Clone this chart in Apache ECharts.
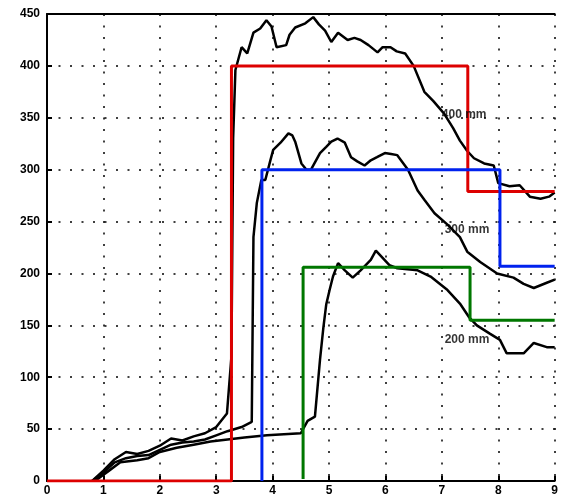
<!DOCTYPE html>
<html><head><meta charset="utf-8">
<script src="https://cdn.jsdelivr.net/npm/echarts@6/dist/echarts.min.js"></script>
<style>html,body{margin:0;padding:0;background:#fff}#c{width:561px;height:500px}</style>
</head><body><div id="c"></div>
<script>
var xTicks = [0,1,2,3,4,5,6,7,8,9];
var yTicks = [0,50,100,150,200,250,300,350,400,450];

var stepRed   = [[0,0],[3.27,0],[3.27,400],[7.46,400],[7.46,279],[9,279]];
var stepBlue  = [[3.81,0],[3.81,300],[8.03,300],[8.03,207],[9,207]];
var stepGreen = [[4.54,2],[4.54,206],[7.5,206],[7.5,155],[9,155]];

var curve400 = [[0.8,0],[1.0,10],[1.2,21],[1.4,28],[1.6,26],[1.8,29],[2.0,34],[2.2,41],[2.4,39],[2.6,43],[2.8,46],[3.0,52],[3.19,65],[3.27,120],[3.3,330],[3.34,396],
  [3.45,418],[3.55,412],[3.66,432],[3.78,436],[3.89,444],[3.98,438],[4.07,418],[4.24,420],[4.3,430],[4.4,437],[4.58,441],[4.72,447],[4.82,440],[4.93,434],[5.04,423],[5.16,432],
  [5.33,425],[5.45,427],[5.56,425],[5.7,420],[5.86,413],[5.95,418],[6.09,418],[6.2,414],[6.35,412],[6.5,400],[6.69,375],[6.85,366],[7.04,354],[7.2,340],[7.32,328],[7.45,318],
  [7.57,311],[7.75,306],[7.92,304],[8.0,287],[8.2,284],[8.38,285],[8.56,274],[8.75,272],[8.9,274],[9,278]];

var curve300 = [[0.8,0],[1.0,8],[1.2,18],[1.4,22],[1.6,24],[1.8,25],[2.0,30],[2.2,35],[2.4,37],[2.6,38],[2.8,40],[3.0,44],[3.2,48],[3.45,52],[3.63,57],[3.66,235],
  [3.72,268],[3.8,290],[3.87,290],[3.96,309],[4.01,319],[4.14,326],[4.28,335],[4.35,333],[4.4,327],[4.51,306],[4.6,300],[4.68,300],[4.84,316],[4.95,322],[5.04,327],[5.15,330],
  [5.28,326],[5.39,312],[5.5,308],[5.63,304],[5.74,309],[5.85,312],[5.99,316],[6.1,315],[6.21,314],[6.4,300],[6.57,280],[6.69,271],[6.87,258],[7.1,247],[7.32,235],[7.45,221],
  [7.68,211],[7.98,200],[8.27,196],[8.45,190],[8.63,186],[8.86,191],[9,194]];

var curve200 = [[0.85,0],[1.1,10],[1.3,18],[1.6,20],[1.8,22],[2.0,28],[2.3,32],[2.6,35],[2.9,38],[3.2,40],[3.5,42],[3.9,44],[4.5,46],[4.62,58],[4.75,62],[4.84,117],
  [4.9,148],[4.95,170],[5.01,184],[5.07,197],[5.16,210],[5.28,203],[5.42,196],[5.56,203],[5.74,213],[5.83,222],[5.95,215],[6.07,208],[6.21,205],[6.57,203],[6.8,197],[7.1,184],
  [7.32,171],[7.48,158],[7.62,150],[7.85,142],[8.03,136],[8.15,123],[8.45,123],[8.63,133],[8.86,129],[9,129]];

var curveLabels = [[7.0,353,'400 mm'],[7.05,242,'300 mm'],[7.05,136,'200 mm']];

var chart = echarts.init(document.getElementById('c'));
var dotted = {color:'#000', width:1.5, type:[2,9.5]};
function line(data,color,w){return {type:'line',data:data,symbol:'none',animation:false,lineStyle:{color:color,width:w},z:color==='#000'?3:4};}
chart.setOption({
  animation:false,
  grid:{left:47,right:3,top:14,bottom:19},
  xAxis:[{type:'value',min:0,max:9,interval:1,
    axisLine:{lineStyle:{color:'#000',width:2}},
    axisTick:{inside:true,length:5,lineStyle:{color:'#000',width:2}},
    axisLabel:{color:'#000',fontSize:12,fontWeight:'bold',fontFamily:'Liberation Sans',margin:4,
      formatter:function(v){return xTicks.indexOf(v)>=0?String(v):'';}},
    splitLine:{show:true,lineStyle:dotted}},
    {type:'value',min:0,max:9,position:'top',axisLine:{show:true,lineStyle:{color:'#000',width:2}},axisTick:{show:false},axisLabel:{show:false},splitLine:{show:false}}],
  yAxis:{type:'value',min:0,max:450,interval:50,
    axisLine:{show:true,lineStyle:{color:'#000',width:2}},
    axisTick:{show:true,inside:true,length:5,lineStyle:{color:'#000',width:2}},
    axisLabel:{color:'#000',fontSize:12,fontWeight:'bold',fontFamily:'Liberation Sans',margin:7,
      formatter:function(v){return yTicks.indexOf(v)>=0?String(v):'';}},
    splitLine:{show:true,lineStyle:dotted}},
  series:[
    line(curve400,'#000',2.5), line(curve300,'#000',2.5), line(curve200,'#000',2.5),
    line(stepRed,'#dd0000',3), line(stepBlue,'#0022ee',3), line(stepGreen,'#007700',3),
    {type:'scatter',symbolSize:0,z:5,animation:false,
     data:curveLabels.map(function(d){return {value:[d[0],d[1]],name:d[2]};}),
     label:{show:true,position:'right',distance:0,formatter:function(p){return p.name;},color:'#000',fontSize:12,fontWeight:'bold',fontFamily:'Liberation Sans'}}
  ]
});
</script></body></html>
